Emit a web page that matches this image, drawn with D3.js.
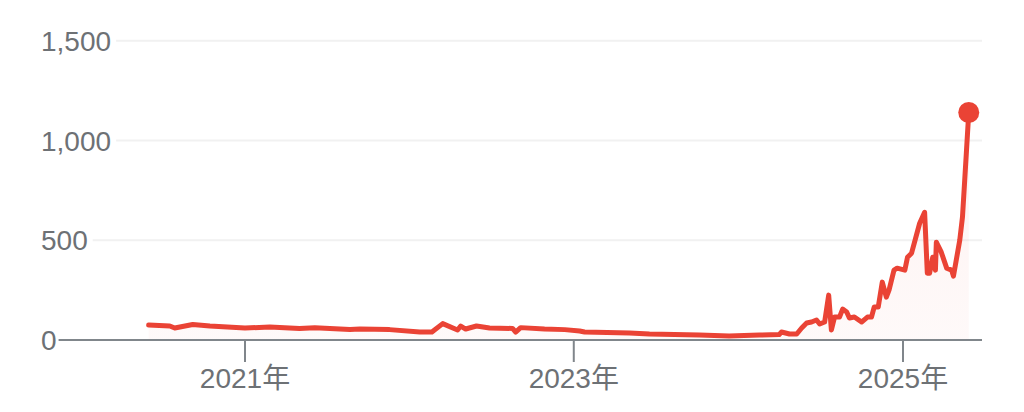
<!DOCTYPE html>
<html>
<head>
<meta charset="utf-8">
<script src="https://cdn.jsdelivr.net/npm/d3@7"></script>
<style>
  body { margin: 0; background: #fff; }
  svg { display: block; }
  .label { font-family: "Liberation Sans", Arial, "Noto Sans CJK JP", sans-serif; fill: #6d7175; font-size: 28px; }
</style>
</head>
<body>
<svg id="chart" width="1024" height="412"></svg>
<script>
const dates = [
  "2020-06-01", "2020-07-18", "2020-07-29", "2020-09-07", "2020-10-15", "2021-01-01",
  "2021-02-25", "2021-05-02", "2021-06-05", "2021-08-22", "2021-09-13", "2021-11-18",
  "2022-01-24", "2022-02-20", "2022-03-16", "2022-04-18", "2022-04-25", "2022-05-06",
  "2022-05-30", "2022-06-28", "2022-08-18", "2022-08-25", "2022-09-05", "2022-10-28",
  "2022-12-12", "2023-01-14", "2023-01-25", "2023-05-05", "2023-06-18", "2023-10-07",
  "2023-12-12", "2024-02-17", "2024-04-01", "2024-04-06", "2024-04-24", "2024-05-10",
  "2024-05-21", "2024-06-01", "2024-06-12", "2024-06-23", "2024-06-30", "2024-07-11",
  "2024-07-20", "2024-07-26", "2024-08-02", "2024-08-13", "2024-08-20", "2024-08-29",
  "2024-09-04", "2024-09-15", "2024-10-01", "2024-10-14", "2024-10-23", "2024-10-29",
  "2024-11-07", "2024-11-16", "2024-11-25", "2024-12-01", "2024-12-12", "2024-12-19",
  "2025-01-05", "2025-01-11", "2025-01-20", "2025-02-07", "2025-02-18", "2025-02-24",
  "2025-03-01", "2025-03-08", "2025-03-14", "2025-03-16", "2025-03-27", "2025-04-08",
  "2025-04-19", "2025-04-23", "2025-05-07", "2025-05-13", "2025-05-18", "2025-05-22",
  "2025-05-27"
];

const prices = [
  75, 70, 60, 78, 70, 60,
  65, 58, 62, 53, 55, 52,
  40, 40, 82, 50, 70, 55,
  70, 60, 58, 40, 62, 55,
  52, 45, 40, 35, 30, 25,
  20, 25, 27, 40, 30, 30,
  60, 85, 90, 100, 80, 90,
  225, 50, 115, 115, 155, 140,
  110, 115, 90, 115, 115, 165,
  165, 290, 215, 250, 350, 360,
  350, 415, 435, 585, 640, 335,
  335, 415, 350, 490, 440, 360,
  350, 320, 500, 615, 800, 950,
  1140
];

const yTicks = [0, 500, 1000, 1500];
const xTicks = ["2021-01-01", "2023-01-01", "2025-01-01"];
const xTickLabels = ["2021年", "2023年", "2025年"];

const parse = d3.timeParse("%Y-%m-%d");
const data = dates.map((d, i) => ({ date: parse(d), value: prices[i] }));

const svg = d3.select("#chart");
const lineColor = "#ea4335";
const axisRight = 982;

const x = d3.scaleTime()
  .domain([parse(xTicks[0]), parse(xTicks[2])])
  .range([245, 903]);

const y = d3.scaleLinear()
  .domain([0, 1500])
  .range([340, 40.7]);

// soft fill under the line
const defs = svg.append("defs");
const grad = defs.append("linearGradient")
  .attr("id", "fillGrad")
  .attr("x1", 0).attr("y1", 0).attr("x2", 0).attr("y2", 1);
grad.append("stop").attr("offset", "0%").attr("stop-color", lineColor).attr("stop-opacity", 0.07);
grad.append("stop").attr("offset", "100%").attr("stop-color", lineColor).attr("stop-opacity", 0.03);

// y labels + gridlines
const yGroup = svg.append("g");
yTicks.forEach(t => {
  const label = yGroup.append("text")
    .attr("class", "label")
    .attr("x", 41)
    .attr("y", y(t))
    .attr("dy", "0.36em")
    .text(d3.format(",")(t));
  const end = 41 + label.node().getComputedTextLength();
  if (t === 0) return;
  yGroup.append("line")
    .attr("x1", end + 5)
    .attr("x2", axisRight)
    .attr("y1", y(t))
    .attr("y2", y(t))
    .attr("stroke", "#f1f1f1")
    .attr("stroke-width", 2);
});

// area + line
const area = d3.area()
  .x(d => x(d.date))
  .y0(y(0))
  .y1(d => y(d.value));

svg.append("path")
  .datum(data)
  .attr("fill", "url(#fillGrad)")
  .attr("d", area);

const line = d3.line()
  .x(d => x(d.date))
  .y(d => y(d.value));

svg.append("path")
  .datum(data)
  .attr("fill", "none")
  .attr("stroke", lineColor)
  .attr("stroke-width", 5)
  .attr("stroke-linejoin", "round")
  .attr("stroke-linecap", "round")
  .attr("d", line);

// x axis baseline + ticks
const zeroLabelEnd = 41 + yGroup.select("text").node().getComputedTextLength();
svg.append("line")
  .attr("x1", zeroLabelEnd + 2)
  .attr("x2", axisRight)
  .attr("y1", y(0))
  .attr("y2", y(0))
  .attr("stroke", "#80868b")
  .attr("stroke-width", 2);

const xAxis = svg.append("g");
xTicks.forEach((t, i) => {
  const px = x(parse(t));
  xAxis.append("line")
    .attr("x1", px).attr("x2", px)
    .attr("y1", y(0)).attr("y2", y(0) + 22)
    .attr("stroke", "#80868b")
    .attr("stroke-width", 2);
  xAxis.append("text")
    .attr("class", "label")
    .attr("x", px)
    .attr("y", 388)
    .attr("text-anchor", "middle")
    .text(xTickLabels[i]);
});

// end dot
const last = data[data.length - 1];
svg.append("circle")
  .attr("cx", x(last.date))
  .attr("cy", y(last.value))
  .attr("r", 10.5)
  .attr("fill", lineColor);
</script>
</body>
</html>
